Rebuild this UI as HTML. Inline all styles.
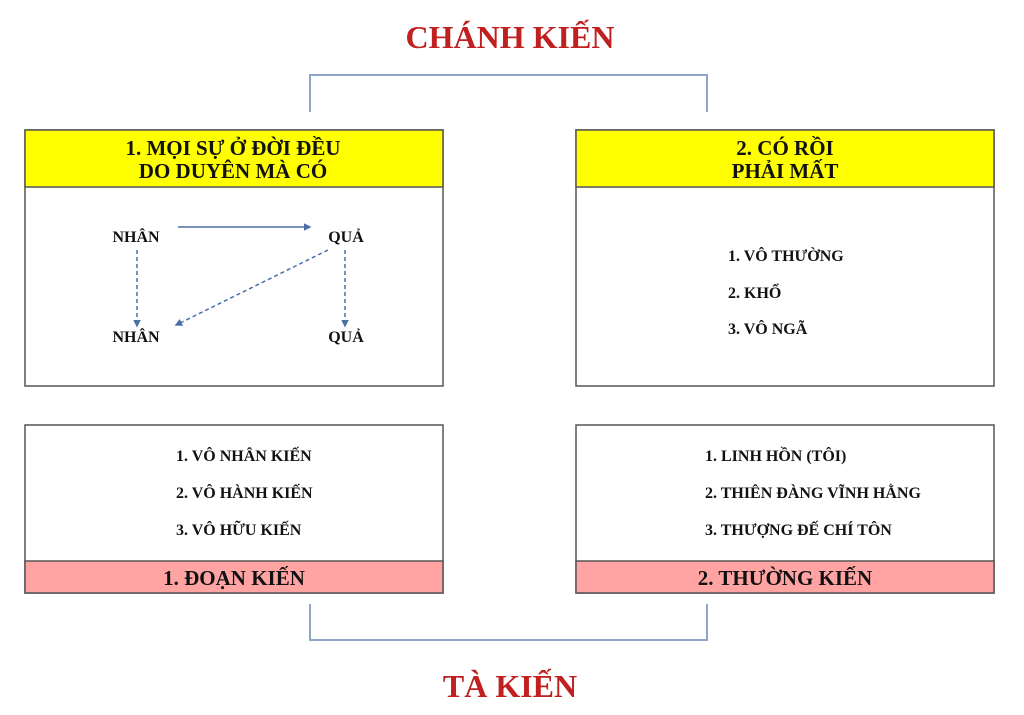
<!DOCTYPE html>
<html><head><meta charset="utf-8"><style>
html,body{margin:0;padding:0;background:#fff;width:1024px;height:715px;overflow:hidden}
text{font-family:"Liberation Serif",serif;font-weight:bold}
</style></head><body>
<svg width="1024" height="715" xmlns="http://www.w3.org/2000/svg">
<defs>
<marker id="a" markerWidth="5" markerHeight="5" refX="4" refY="2.5" orient="auto"><path d="M0,0 L5,2.5 L0,5 z" fill="#4a6fa5"/></marker>
</defs>
<text x="510" y="48" text-anchor="middle" font-size="32" fill="#c0201f">CHÁNH KIẾN</text>
<text x="510" y="697" text-anchor="middle" font-size="32" fill="#c0201f">TÀ KIẾN</text>
<path d="M310,112 V75 H707 V112" fill="none" stroke="#8ea6c9" stroke-width="2"/>
<path d="M310,604 V640 H707 V604" fill="none" stroke="#8ea6c9" stroke-width="2"/>
<!-- top-left -->
<rect x="25" y="130" width="418" height="256" fill="#fff" stroke="#555" stroke-width="1.5"/>
<rect x="25" y="130" width="418" height="57" fill="#ffff00" stroke="#555" stroke-width="1.5"/>
<text x="233" y="155" text-anchor="middle" font-size="21" fill="#111">1. MỌI SỰ Ở ĐỜI ĐỀU</text>
<text x="233" y="178" text-anchor="middle" font-size="21" fill="#111">DO DUYÊN MÀ CÓ</text>
<text x="136" y="242" text-anchor="middle" font-size="16" fill="#111">NHÂN</text>
<text x="346" y="242" text-anchor="middle" font-size="16" fill="#111">QUẢ</text>
<text x="136" y="342" text-anchor="middle" font-size="16" fill="#111">NHÂN</text>
<text x="346" y="342" text-anchor="middle" font-size="16" fill="#111">QUẢ</text>
<line x1="178" y1="227" x2="310" y2="227" stroke="#4a6fa5" stroke-width="1.5" marker-end="url(#a)"/>
<line x1="137" y1="250" x2="137" y2="326" stroke="#4a6fa5" stroke-width="1.5" stroke-dasharray="4,3" marker-end="url(#a)"/>
<line x1="328" y1="250" x2="176" y2="325" stroke="#4a6fa5" stroke-width="1.5" stroke-dasharray="4,3" marker-end="url(#a)"/>
<line x1="345" y1="250" x2="345" y2="326" stroke="#4a6fa5" stroke-width="1.5" stroke-dasharray="4,3" marker-end="url(#a)"/>
<!-- top-right -->
<rect x="576" y="130" width="418" height="256" fill="#fff" stroke="#555" stroke-width="1.5"/>
<rect x="576" y="130" width="418" height="57" fill="#ffff00" stroke="#555" stroke-width="1.5"/>
<text x="785" y="155" text-anchor="middle" font-size="21" fill="#111">2. CÓ RỒI</text>
<text x="785" y="178" text-anchor="middle" font-size="21" fill="#111">PHẢI MẤT</text>
<text x="728" y="261" font-size="16" fill="#111">1. VÔ THƯỜNG</text>
<text x="728" y="298" font-size="16" fill="#111">2. KHỔ</text>
<text x="728" y="334" font-size="16" fill="#111">3. VÔ NGÃ</text>
<!-- bottom-left -->
<rect x="25" y="425" width="418" height="168" fill="#fff" stroke="#555" stroke-width="1.5"/>
<rect x="25" y="561" width="418" height="32" fill="#ffa3a3" stroke="#555" stroke-width="1.5"/>
<text x="176" y="461" font-size="16" fill="#111">1. VÔ NHÂN KIẾN</text>
<text x="176" y="498" font-size="16" fill="#111">2. VÔ HÀNH KIẾN</text>
<text x="176" y="535" font-size="16" fill="#111">3. VÔ HỮU KIẾN</text>
<text x="234" y="585" text-anchor="middle" font-size="21" fill="#111">1. ĐOẠN KIẾN</text>
<!-- bottom-right -->
<rect x="576" y="425" width="418" height="168" fill="#fff" stroke="#555" stroke-width="1.5"/>
<rect x="576" y="561" width="418" height="32" fill="#ffa3a3" stroke="#555" stroke-width="1.5"/>
<text x="705" y="461" font-size="16" fill="#111">1. LINH HỒN (TÔI)</text>
<text x="705" y="498" font-size="16" fill="#111">2. THIÊN ĐÀNG VĨNH HẰNG</text>
<text x="705" y="535" font-size="16" fill="#111">3. THƯỢNG ĐẾ CHÍ TÔN</text>
<text x="785" y="585" text-anchor="middle" font-size="21" fill="#111">2. THƯỜNG KIẾN</text>
</svg>
</body></html>
